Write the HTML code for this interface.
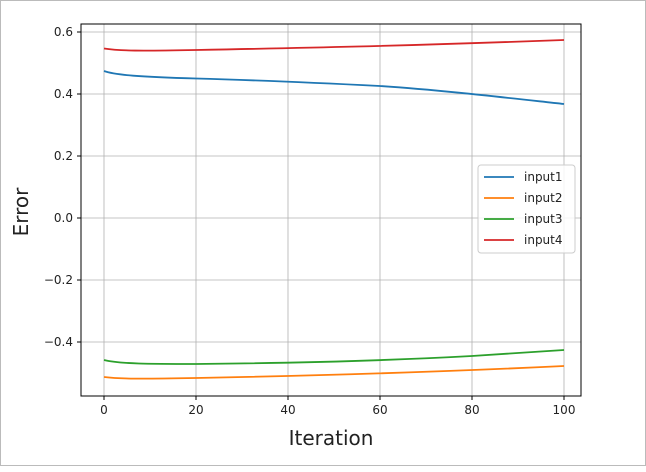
<!DOCTYPE html>
<html><head><style>body{margin:0;background:#fff}</style></head><body>
<svg width="646" height="467" xmlns="http://www.w3.org/2000/svg" font-family="'DejaVu Sans','Liberation Sans',sans-serif">
<rect x="0.5" y="0.5" width="645" height="465" fill="#fff" stroke="#bbb"/>
<g stroke="#b0b0b0" stroke-width="0.8">
<line x1="104" y1="24" x2="104" y2="396"/><line x1="196" y1="24" x2="196" y2="396"/><line x1="288" y1="24" x2="288" y2="396"/><line x1="380" y1="24" x2="380" y2="396"/><line x1="472" y1="24" x2="472" y2="396"/><line x1="564" y1="24" x2="564" y2="396"/>
<line x1="81" y1="32" x2="581" y2="32"/><line x1="81" y1="94" x2="581" y2="94"/><line x1="81" y1="156" x2="581" y2="156"/><line x1="81" y1="218" x2="581" y2="218"/><line x1="81" y1="280" x2="581" y2="280"/><line x1="81" y1="342" x2="581" y2="342"/>
</g>
<g fill="none" stroke-width="1.8">
<path stroke="#1f77b4" d="M104,71 C115,75 140,77 196,78.5 C250,80 300,82 380,86 C440,90 500,97 564,104"/>
<path stroke="#d62728" d="M104,48.5 C120,51 140,51 196,50 C300,48 400,46 564,40"/>
<path stroke="#2ca02c" d="M104,360 C120,364 150,364 196,364 C300,363 400,360 472,356 C520,353 545,351 564,350"/>
<path stroke="#ff7f0e" d="M104,377 C120,379 140,379 196,378 C300,376 420,373 564,366"/>
</g>
<rect x="81" y="24" width="500" height="372" fill="none" stroke="#000" stroke-width="1"/>
<g stroke="#000"><line x1="104" y1="396" x2="104" y2="400"/><line x1="196" y1="396" x2="196" y2="400"/><line x1="288" y1="396" x2="288" y2="400"/><line x1="380" y1="396" x2="380" y2="400"/><line x1="472" y1="396" x2="472" y2="400"/><line x1="564" y1="396" x2="564" y2="400"/>
<line x1="77" y1="32" x2="81" y2="32"/><line x1="77" y1="94" x2="81" y2="94"/><line x1="77" y1="156" x2="81" y2="156"/><line x1="77" y1="218" x2="81" y2="218"/><line x1="77" y1="280" x2="81" y2="280"/><line x1="77" y1="342" x2="81" y2="342"/></g>
<g font-size="12" fill="#222" text-anchor="middle">
<text x="104" y="414">0</text><text x="196" y="414">20</text><text x="288" y="414">40</text><text x="380" y="414">60</text><text x="472" y="414">80</text><text x="564" y="414">100</text>
</g>
<g font-size="12" fill="#222" text-anchor="end">
<text x="73" y="36">0.6</text><text x="73" y="98">0.4</text><text x="73" y="160">0.2</text><text x="73" y="222">0.0</text><text x="73" y="284">−0.2</text><text x="73" y="346">−0.4</text>
</g>
<text x="331" y="445" font-size="20" text-anchor="middle" fill="#222">Iteration</text>
<text transform="translate(28,212) rotate(-90)" font-size="20" text-anchor="middle" fill="#222">Error</text>
<rect x="478" y="165" width="97" height="88" rx="3" fill="#fff" fill-opacity="0.85" stroke="#ccc"/>
<g stroke-width="1.8"><line x1="484" y1="177" x2="514" y2="177" stroke="#1f77b4"/><line x1="484" y1="198" x2="514" y2="198" stroke="#ff7f0e"/><line x1="484" y1="219" x2="514" y2="219" stroke="#2ca02c"/><line x1="484" y1="240" x2="514" y2="240" stroke="#d62728"/></g>
<g font-size="12" fill="#222"><text x="524" y="181">input1</text><text x="524" y="202">input2</text><text x="524" y="223">input3</text><text x="524" y="244">input4</text></g>
</svg>
</body></html>
